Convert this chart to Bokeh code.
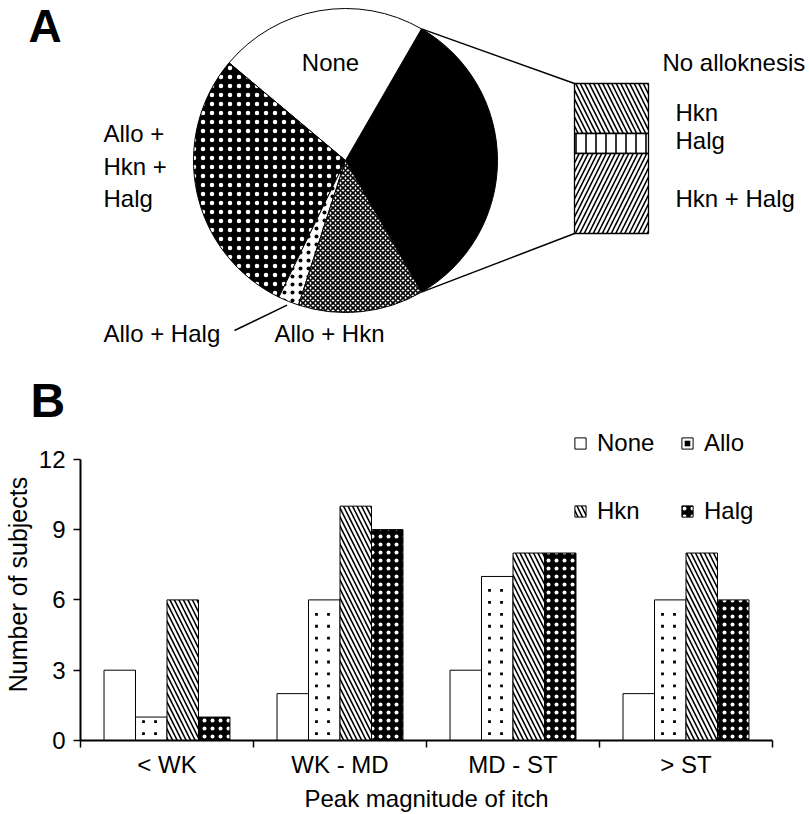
import numpy as np
from bokeh.plotting import figure
from bokeh.models import Range1d, FixedTicker, Legend, LegendItem
from bokeh.embed import file_html
from bokeh.resources import INLINE
from bokeh.core.properties import value

FONT = "Liberation Sans"

# ---------------- data ----------------
pie_labels = ["No alloknesis", "None", "Allo + Hkn + Halg", "Allo + Halg", "Allo + Hkn"]
pie_counts = [15, 10, 13, 1, 6]
breakdown_labels = ["Hkn", "Halg", "Hkn + Halg"]
breakdown_counts = [5, 2, 8]

categories = ["< WK", "WK - MD", "MD - ST", "> ST"]
series_names = ["None", "Allo", "Hkn", "Halg"]
none_counts = [3, 2, 3, 2]
allo_counts = [1, 6, 7, 6]
hkn_counts = [6, 10, 8, 8]
halg_counts = [1, 9, 8, 6]
y_ticks = [0, 3, 6, 9, 12]

# ---------------- panel A ----------------
W = 810
SPLIT = 428          # page y where panel B starts
HA = SPLIT
HB = 814 - SPLIT
SHIFT = 0.36         # text baseline compensation (fraction of font size)


def px(x):
    return x


def py(y):
    return SPLIT - y


def tb(y, size=24):
    # data y for a wanted alphabetic baseline at page y
    return SPLIT - (y - SHIFT * size)


pA = figure(frame_width=W, frame_height=HA, x_range=Range1d(0, W), y_range=Range1d(0, HA),
            x_axis_type=None, y_axis_type=None, output_backend="svg", title=None,
            toolbar_location=None, min_border=0)
pA.grid.visible = False
pA.outline_line_color = None

total = sum(pie_counts)
angles = 2 * np.pi * np.array(pie_counts, dtype=float) / total
start0 = -angles[0] / 2
starts = start0 + np.concatenate([[0.0], np.cumsum(angles)[:-1]])
ends = starts + angles
cx, cy, R = px(345), py(160), 152

pie_styles = [
    dict(fill_color="black"),
    dict(fill_color="white"),
    dict(fill_color="black", hatch_pattern="dot", hatch_color="white", hatch_scale=9, hatch_weight=0.5),
    dict(fill_color="white", hatch_pattern="dot", hatch_color="black", hatch_scale=8, hatch_weight=0.5),
    dict(fill_color="white", hatch_pattern="diagonal_cross", hatch_color="black", hatch_scale=5,
         hatch_weight=1.6),
]
for i in range(len(pie_counts)):
    pA.wedge(x=cx, y=cy, radius=R, start_angle=starts[i], end_angle=ends[i],
             line_color="black", line_width=1, **pie_styles[i])

# exploded bar
bar_left, bar_right, bar_top = px(574), px(648), py(83)
unit = (py(83) - py(233)) / sum(breakdown_counts)
cum = np.concatenate([[0], np.cumsum(breakdown_counts)[:-1]])
tops = bar_top - unit * cum
bottoms = tops - unit * np.array(breakdown_counts)
bar_styles = [
    dict(hatch_pattern="left_diagonal_line", hatch_scale=9, hatch_weight=1.6),
    dict(hatch_pattern="vertical_line", hatch_scale=10, hatch_weight=1.6),
    dict(hatch_pattern="right_diagonal_line", hatch_scale=9, hatch_weight=1.6),
]
for i in range(len(breakdown_counts)):
    pA.quad(left=bar_left, right=bar_right, top=tops[i], bottom=bottoms[i],
            fill_color="white", line_color="black", line_width=1.3, **bar_styles[i])

# connectors
pA.line(x=[cx + R * np.cos(ends[0]), bar_left], y=[cy + R * np.sin(ends[0]), tops[0]],
        line_color="black", line_width=1.5)
pA.line(x=[cx + R * np.cos(starts[0]), bar_left], y=[cy + R * np.sin(starts[0]), bottoms[-1]],
        line_color="black", line_width=1.5)
# leader for the small slice
mid = (starts[3] + ends[3]) / 2
pA.line(x=[cx + (R + 4) * np.cos(mid), px(234)], y=[cy + (R + 4) * np.sin(mid), py(330)],
        line_color="black", line_width=1.5)

txt = dict(text_font=value(FONT), text_font_size="24px", text_color="black",
           text_baseline="alphabetic")
pA.text(x=[px(330)], y=[tb(71)], text=[pie_labels[1]], text_align="center", **txt)
pA.text(x=[px(662)], y=[tb(71)], text=[pie_labels[0]], text_align="left", **txt)
pA.text(x=[px(675)] * 3, y=[tb(121), tb(149), tb(207)], text=breakdown_labels,
        text_align="left", **txt)
pA.text(x=[px(103)] * 3, y=[tb(142), tb(175), tb(207)], text=["Allo +", "Hkn +", "Halg"],
        text_align="left", **txt)
pA.text(x=[px(103)], y=[tb(342)], text=[pie_labels[3]], text_align="left", **txt)
pA.text(x=[px(274)], y=[tb(342)], text=[pie_labels[4]], text_align="left", **txt)
pA.text(x=[px(28)], y=[tb(42, 46)], text=["A"], text_align="left",
        text_font=value(FONT), text_font_size="46px", text_font_style="bold",
        text_color="black", text_baseline="alphabetic")
pA.text(x=[px(30)], y=[tb(417, 48)], text=["B"], text_align="left",
        text_font=value(FONT), text_font_size="48px", text_font_style="bold",
        text_color="black", text_baseline="alphabetic")

# ---------------- panel B ----------------
px_per_unit = (742 - 459) / 12.0
px_per_cat = (772 - 80) / float(len(categories))
ytop = 12 + (459 - SPLIT) / px_per_unit

pB = figure(width=W, height=HB, x_range=Range1d(0, len(categories)), y_range=Range1d(0, ytop),
            output_backend="svg", toolbar_location=None, title=None,
            min_border_left=80, min_border_right=38, min_border_top=0, min_border_bottom=72)
pB.grid.visible = False
pB.outline_line_color = None

xs_base = np.arange(len(categories)) + 0.5
bw = 0.182
series_vals = [none_counts, allo_counts, hkn_counts, halg_counts]
series_styles = [
    dict(fill_color="white"),
    dict(fill_color="white"),
    dict(fill_color="white", hatch_pattern="left_diagonal_line", hatch_scale=9, hatch_weight=1.6),
    dict(fill_color="black", hatch_pattern="dot", hatch_color="white", hatch_scale=8, hatch_weight=0.5),
]
renderers = []
for j, (vals, st) in enumerate(zip(series_vals, series_styles)):
    r = pB.vbar(x=xs_base + (j - 1.5) * bw, top=vals, bottom=0, width=bw,
                line_color="black", line_width=1, **st)
    renderers.append(r)

# sparse dot texture of the "Allo" bars (derived from the bar values)
dot_x, dot_y = [], []
for i, v in enumerate(allo_counts):
    left = xs_base[i] + (1 - 1.5) * bw - bw / 2
    h_px = v * px_per_unit
    k = 0
    while 7 + 12 * k < h_px - 3:
        for off in (8, 20):
            dot_x.append(left + off / px_per_cat)
            dot_y.append((7 + 12 * k) / px_per_unit)
        k += 1
allo_dots = pB.scatter(x=dot_x, y=dot_y, marker="square", size=2.8,
                       fill_color="black", line_color=None)

xa = pB.xaxis[0]
xa.ticker = FixedTicker(ticks=[float(v) for v in xs_base], minor_ticks=list(range(len(categories) + 1)))
xa.major_label_overrides = {float(v): c for v, c in zip(xs_base, categories)}
xa.major_tick_line_color = None
xa.major_tick_out = 7
xa.major_tick_in = 0
xa.minor_tick_line_color = "black"
xa.minor_tick_line_width = 1.5
xa.minor_tick_out = 7
xa.minor_tick_in = 0
xa.axis_line_width = 2
xa.axis_line_color = "black"
xa.major_label_text_font = FONT
xa.major_label_text_font_size = "24px"
xa.major_label_text_color = "black"
xa.major_label_standoff = 3
xa.axis_label = "Peak magnitude of itch"
xa.axis_label_text_font = FONT
xa.axis_label_text_font_size = "24px"
xa.axis_label_text_font_style = "normal"
xa.axis_label_text_color = "black"
xa.axis_label_standoff = 4

ya = pB.yaxis[0]
ya.ticker = FixedTicker(ticks=y_ticks, minor_ticks=[])
ya.bounds = (0, 12)
ya.major_tick_out = 7
ya.major_tick_in = 0
ya.major_tick_line_width = 1.5
ya.minor_tick_line_color = None
ya.axis_line_width = 2
ya.axis_line_color = "black"
ya.major_label_text_font = FONT
ya.major_label_text_font_size = "24px"
ya.major_label_text_color = "black"
ya.major_label_standoff = 8
ya.axis_label = "Number of subjects"
ya.axis_label_text_font = FONT
ya.axis_label_text_font_size = "25px"
ya.axis_label_text_font_style = "normal"
ya.axis_label_text_color = "black"
ya.axis_label_standoff = 4

LH, SP = 27, 40
leg_common = dict(orientation="vertical", glyph_width=14, glyph_height=14, label_standoff=10,
                  label_height=LH, spacing=SP, padding=0, margin=0,
                  label_text_font=FONT, label_text_font_size="24px", label_text_color="black",
                  background_fill_alpha=0, border_line_color=None)
leg_top = SPLIT + 5
leg_bottom = 742 - (leg_top + LH + SP + LH)
legend1 = Legend(items=[LegendItem(label=series_names[0], renderers=[renderers[0]]),
                        LegendItem(label=series_names[2], renderers=[renderers[2]])],
                 location=(573 - 80, leg_bottom), **leg_common)
legend2 = Legend(items=[LegendItem(label=series_names[1], renderers=[renderers[1], allo_dots]),
                        LegendItem(label=series_names[3], renderers=[renderers[3]])],
                 location=(680 - 80, leg_bottom), **leg_common)
pB.add_layout(legend1)
pB.add_layout(legend2)

open("out.html", "w").write(file_html([pA, pB], INLINE))
